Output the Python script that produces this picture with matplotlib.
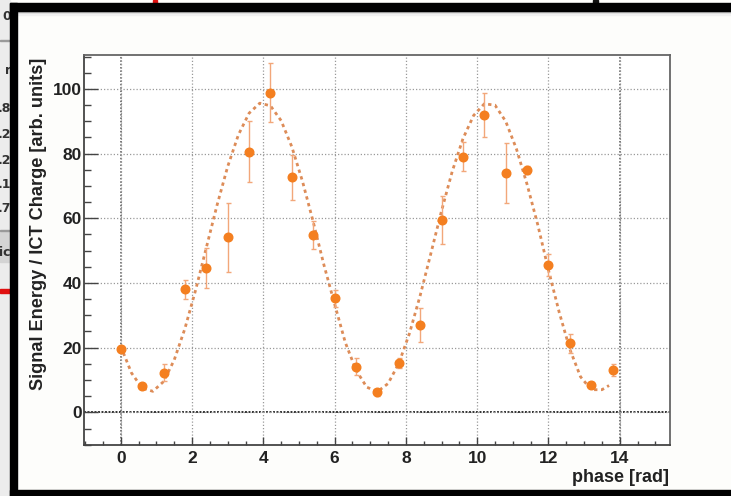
import matplotlib
matplotlib.use("Agg")
import matplotlib.pyplot as plt
from matplotlib.patches import Rectangle
from matplotlib.ticker import MultipleLocator

# ---- data ----
phase = [0.0, 0.6, 1.2, 1.8, 2.4, 3.0, 3.6, 4.2, 4.8, 5.4, 6.0, 6.6,
         7.2, 7.8, 8.4, 9.0, 9.6, 10.2, 10.8, 11.4, 12.0, 12.6, 13.2, 13.8]
signal = [19.6, 8.1, 12.3, 38.0, 44.5, 54.1, 80.6, 98.9, 72.7, 54.8, 35.3, 14.1,
          6.2, 15.3, 27.0, 59.5, 79.1, 91.9, 74.1, 74.9, 45.6, 21.3, 8.4, 13.1]
signal_err = [0.8, 0.8, 2.6, 3.0, 6.2, 10.6, 9.4, 9.0, 6.9, 4.3, 2.6, 2.7,
              1.0, 1.5, 5.3, 7.4, 4.6, 6.9, 9.3, 1.2, 3.4, 2.9, 1.0, 2.0]

fit_x = [0.0, 0.3, 0.6, 0.9, 1.2, 1.5, 1.8, 2.1, 2.4, 2.7, 3.0, 3.3, 3.6, 3.9,
         4.2, 4.5, 4.8, 5.1, 5.4, 5.7, 6.0, 6.3, 6.6, 6.9, 7.2, 7.5, 7.8, 8.1,
         8.4, 8.7, 9.0, 9.3, 9.6, 9.9, 10.2, 10.5, 10.8, 11.1, 11.4, 11.7,
         12.0, 12.3, 12.6, 12.9, 13.2, 13.5, 13.7]
fit_y = [20.4, 12.2, 7.5, 6.5, 9.5, 16.2, 25.9, 37.8, 50.9, 64.0, 76.0, 85.8,
         92.5, 95.6, 94.8, 90.2, 82.1, 71.4, 58.9, 45.6, 33.5, 21.6, 13.1, 7.8,
         6.4, 8.9, 15.1, 24.4, 36.1, 49.1, 62.3, 74.5, 84.6, 91.8, 95.4, 95.0,
         90.0, 81.5, 70.5, 58.0, 44.0, 31.0, 19.5, 11.0, 7.0, 7.0, 8.3]

x_ticks = [0, 2, 4, 6, 8, 10, 12, 14]
y_ticks = [0, 20, 40, 60, 80, 100]
x_title = "phase [rad]"
y_title = "Signal Energy / ICT Charge [arb. units]"

W, H = 731, 496
fig = plt.figure(figsize=(W / 100, H / 100), dpi=100)
fig.patch.set_facecolor("#fdfdfb")

def px(x0, y0, w, h):
    return (x0 / W, 1 - (y0 + h) / H, w / W, h / H)

# ---- axes ----
L, R, T, B = 84.4, 670.0, 55.0, 445.0
ax = fig.add_axes((L / W, 1 - B / H, (R - L) / W, (B - T) / H))
ax.set_facecolor("white")
ax.set_xlim(-1.02, 15.41)
ax.set_ylim(-10.1, 110.5)

ax.grid(True, which="major", color="#9a9a9a", lw=0.9, ls=(0, (1, 1.6)))
for xv in (0, 14):
    ax.axvline(xv, color="#555555", lw=1.1, ls=(0, (1, 1.2)), zorder=1)
ax.axhline(0, color="#333333", lw=1.4, ls=(0, (1, 0.8)), zorder=1)

ax.plot(fit_x, fit_y, color="#dd8c58", lw=2.0, ls=(0, (1.2, 1.3)), zorder=3)
ax.errorbar(phase, signal, yerr=signal_err, fmt="o", color="#f47f20",
            ms=6.2, mec="#f47f20", ecolor="#f2a77a", elinewidth=1.0,
            capsize=1.8, capthick=1.0, zorder=4)

ax.xaxis.set_major_locator(MultipleLocator(2))
ax.xaxis.set_minor_locator(MultipleLocator(0.5))
ax.yaxis.set_major_locator(MultipleLocator(20))
ax.yaxis.set_minor_locator(MultipleLocator(5))
ax.set_xticks(x_ticks)
ax.set_yticks(y_ticks)
ax.set_xticklabels([str(t) for t in x_ticks])
ax.set_yticklabels([str(t) for t in y_ticks])
ax.tick_params(which="both", direction="in", top=False, right=False,
               color="#444444", width=1.0)
ax.tick_params(axis="x", which="major", length=6, pad=4)
ax.tick_params(axis="x", which="minor", length=3)
ax.tick_params(axis="y", which="major", length=10, pad=2)
ax.tick_params(axis="y", which="minor", length=5)
for lab in ax.get_xticklabels() + ax.get_yticklabels():
    lab.set_fontfamily("Liberation Sans")
    lab.set_fontweight("bold")
    lab.set_fontsize(12.5)
    lab.set_color("#222222")
for sp in ax.spines.values():
    sp.set_color("#666666")
    sp.set_linewidth(1.3)
ax.spines["left"].set_color("#444444")
ax.spines["bottom"].set_color("#444444")

fig.text(669 / W, 1 - 478 / H, x_title, ha="right", va="center",
         fontfamily="Liberation Sans", fontweight="bold", fontsize=13,
         color="#222222")
fig.text(38.5 / W, 1 - 58 / H, y_title, ha="right", va="center",
         rotation=90, rotation_mode="anchor",
         fontfamily="Liberation Sans", fontweight="bold", fontsize=13.1,
         color="#222222")

# ---- screenshot surroundings ----
fig.add_artist(Rectangle(px(0, 0, 10, 496)[:2], 10 / W, 496 / H,
                         transform=fig.transFigure, color="#ececec", zorder=0))
fig.add_artist(Rectangle(px(0, 232, 10, 30)[:2], 10 / W, 30 / H,
                         transform=fig.transFigure, color="#d4d4d4", zorder=0))
fig.add_artist(Rectangle(px(0, 289, 10, 4)[:2], 10 / W, 4 / H,
                         transform=fig.transFigure, color="#e01010", zorder=1))
fig.add_artist(Rectangle(px(153, 0, 4, 4)[:2], 4 / W, 4 / H,
                         transform=fig.transFigure, color="#e01010", zorder=1))
fig.add_artist(Rectangle(px(593, 0, 5, 4)[:2], 5 / W, 4 / H,
                         transform=fig.transFigure, color="#111111", zorder=1))
for yy in (40, 230):
    fig.add_artist(Rectangle(px(0, yy, 10, 1)[:2], 10 / W, 1 / H,
                             transform=fig.transFigure, color="#9a9a9a", zorder=1))
frag = [("0", 16), ("r", 70), (".8", 108), (".2", 134), (".2", 161),
        (".1", 185), (".7", 209), ("ic", 252)]
for t, yy in frag:
    fig.text(11 / W, 1 - yy / H, t, ha="right", va="center", fontsize=9,
             fontfamily="DejaVu Sans", fontweight="bold", color="#333333",
             zorder=2)
# black window border
fig.add_artist(Rectangle(px(10, 3, 721, 8)[:2], 721 / W, 8 / H,
                         transform=fig.transFigure, color="black", zorder=5))
fig.add_artist(Rectangle(px(10, 3, 7, 493)[:2], 7 / W, 493 / H,
                         transform=fig.transFigure, color="black", zorder=5))
fig.add_artist(Rectangle(px(10, 490, 721, 6)[:2], 721 / W, 6 / H,
                         transform=fig.transFigure, color="black", zorder=5))
for i, c in enumerate(["#8a8a8a", "#b8b8b8", "#dcdcdc", "#f0f0f0"]):
    fig.add_artist(Rectangle(px(17, 11 + i, 714, 1)[:2], 714 / W, 1 / H,
                             transform=fig.transFigure, color=c, zorder=4))

fig.savefig("out.png", dpi=100, facecolor=fig.get_facecolor())
